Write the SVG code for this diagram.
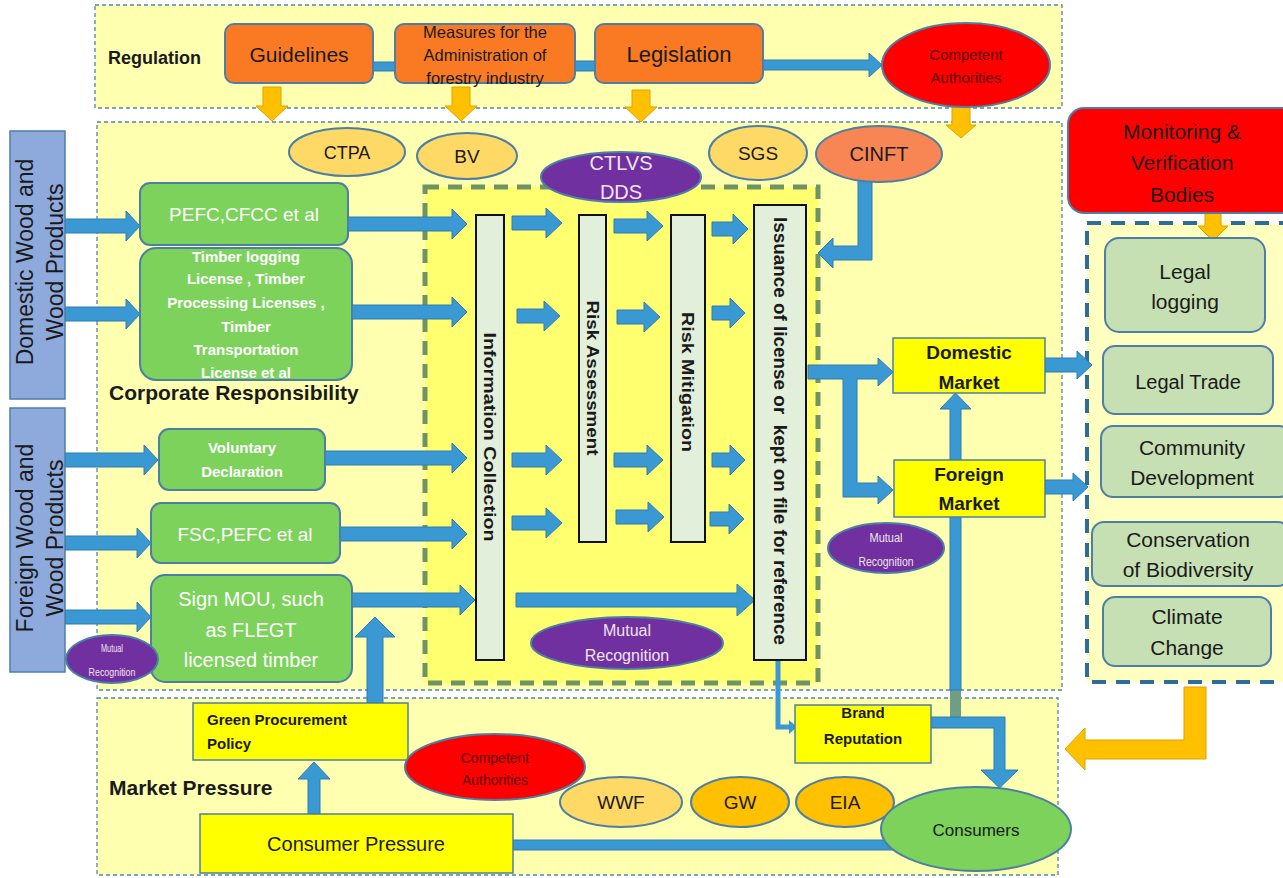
<svg xmlns="http://www.w3.org/2000/svg" width="1283" height="878" viewBox="0 0 1283 878">
<style>
.band{fill:#FFFFB0;stroke:#4F86AE;stroke-width:1.3;stroke-dasharray:4 3}
.arrow{fill:#3A98D2;stroke:#2C7DB5;stroke-width:1}
.oarrow{fill:#FFC000;stroke:#D9A400;stroke-width:1}
.green{fill:#7CD25B;stroke:#4C7FA6;stroke-width:2}
.orange{fill:#F97A22;stroke:#4C7FA6;stroke-width:2}
.col{fill:#E2EFDA;stroke:#111;stroke-width:2}
.yel{fill:#FFFF00;stroke:#4C7FA6;stroke-width:1.5}
.lg{fill:#C6E0B4;stroke:#4C7FA6;stroke-width:2}
.src{fill:#8EA9DB;stroke:#4C7FA6;stroke-width:1.5}
.ell{stroke:#4C7FA6;stroke-width:2}
.purple{fill:#7030A0;stroke:#4C7FA6;stroke-width:2}
.t{font-family:"Liberation Sans",Arial,sans-serif;fill:#1a1a1a;text-anchor:middle}
.w{fill:#ffffff}
.pk{fill:#F2E4F2}
.b{font-weight:bold}
.dr{fill:#5a0000}
</style>

<!-- bands -->
<g id="bands">
  <rect class="band" x="95" y="5" width="967" height="103"/>
  <rect class="band" x="97" y="122" width="965" height="568"/>
  <rect class="band" x="97" y="698" width="961" height="177"/>
  <rect x="425" y="187" width="393" height="496" fill="#FFFF70" stroke="#6E9463" stroke-width="5" stroke-dasharray="14 9"/>
  <rect x="1087" y="223" width="200" height="459" fill="#FFFFC0" stroke="#2E6E96" stroke-width="4" stroke-dasharray="14 10"/>
</g>

<!-- connectors -->
<g id="connectors">
  <!-- regulation connectors -->
  <rect class="arrow" x="373" y="62" width="22" height="9"/>
  <rect class="arrow" x="575" y="61" width="20" height="10"/>
  <polygon class="arrow" points="763,60 869,60 869,53 882,65 869,77 869,70 763,70"/>
  <polygon class="oarrow" points="263,87 281,87 281,106 288,106 272,121 256,106 263,106"/>
  <polygon class="oarrow" points="452,87 470,87 470,106 477,106 461,121 445,106 452,106"/>
  <polygon class="oarrow" points="632,90 650,90 650,107 657,107 641,122 625,107 632,107"/>
  <polygon class="oarrow" points="952,107 970,107 970,125 976,125 961,138 946,125 952,125"/>
  <polygon class="oarrow" points="1205,205 1221,205 1221,226 1228,226 1213,241 1198,226 1205,226"/>
  <polygon class="oarrow" points="1184,687 1206,687 1206,759 1085,759 1085,770 1065,749 1085,728 1085,740 1184,740"/>
  <!-- sources to green boxes -->
  <polygon class="arrow" points="65,219 126,219 126,211 140,226 126,241 126,233 65,233"/>
  <polygon class="arrow" points="65,307 126,307 126,299 140,314 126,329 126,321 65,321"/>
  <polygon class="arrow" points="65,453 144,453 144,445 158,460 144,475 144,467 65,467"/>
  <polygon class="arrow" points="65,536 137,536 137,528 151,543 137,558 137,550 65,550"/>
  <polygon class="arrow" points="65,610 137,610 137,602 151,617 137,632 137,624 65,624"/>
  <!-- green boxes to information collection -->
  <polygon class="arrow" points="348,217 452,217 452,209 467,224 452,239 452,231 348,231"/>
  <polygon class="arrow" points="352,305 452,305 452,297 467,312 452,327 452,319 352,319"/>
  <polygon class="arrow" points="325,451 452,451 452,443 467,458 452,473 452,465 325,465"/>
  <polygon class="arrow" points="340,527 452,527 452,519 467,534 452,549 452,541 340,541"/>
  <polygon class="arrow" points="352,593 460,593 460,585 475,600 460,615 460,607 352,607"/>
  <!-- between columns -->
  <polygon class="arrow" points="512,216 546,216 546,208 562,223 546,238 546,230 512,230"/>
  <polygon class="arrow" points="614,219 647,219 647,211 663,226 647,241 647,233 614,233"/>
  <polygon class="arrow" points="712,222 733,222 733,214 748,229 733,244 733,236 712,236"/>
  <polygon class="arrow" points="517,309 544,309 544,301 560,316 544,331 544,323 517,323"/>
  <polygon class="arrow" points="617,310 644,310 644,302 660,317 644,332 644,324 617,324"/>
  <polygon class="arrow" points="712,306 730,306 730,298 745,313 730,328 730,320 712,320"/>
  <polygon class="arrow" points="512,453 546,453 546,445 562,460 546,475 546,467 512,467"/>
  <polygon class="arrow" points="614,453 647,453 647,445 663,460 647,475 647,467 614,467"/>
  <polygon class="arrow" points="712,453 730,453 730,445 745,460 730,475 730,467 712,467"/>
  <polygon class="arrow" points="512,516 546,516 546,508 562,523 546,538 546,530 512,530"/>
  <polygon class="arrow" points="616,510 648,510 648,502 664,517 648,532 648,524 616,524"/>
  <polygon class="arrow" points="710,512 729,512 729,504 744,519 729,534 729,526 710,526"/>
  <polygon class="arrow" points="516,593 737,593 737,584 755,600 737,616 737,607 516,607"/>
  <!-- CINFT to issuance -->
  <path class="arrow" d="M858,180 L872,180 L872,260 L833,260 L833,268 L818,253 L833,238 L833,246 L858,246 Z"/>
  <!-- issuance to markets -->
  <path class="arrow" d="M808,365 L878,365 L878,358 L893,372 L878,386 L878,379 L857,379 L857,483 L878,483 L878,476 L893,490 L878,504 L878,497 L843,497 L843,379 L808,379 Z"/>
  <polygon class="arrow" points="1045,358 1077,358 1077,351 1092,365 1077,379 1077,372 1045,372"/>
  <polygon class="arrow" points="1045,480 1073,480 1073,473 1088,487 1073,501 1073,494 1045,494"/>
  <!-- up to domestic market -->
  <rect x="950" y="690" width="11" height="37" fill="#6E9E86"/>
  <polygon class="arrow" points="950,690 950,409 940,409 955.5,393 971,409 961,409 961,690"/>
  <!-- issuance to brand reputation -->
  <polyline points="778,660 778,727 790,727" fill="none" stroke="#3A98D2" stroke-width="5"/>
  <polygon points="789,720 797,727 789,734" fill="#3A98D2"/>
  <!-- brand reputation to consumers -->
  <path class="arrow" d="M931,717 L1005,717 L1005,770 L1018,770 L999.5,788 L981,770 L994,770 L994,728 L931,728 Z"/>
  <!-- consumer pressure to consumers -->
  <rect class="arrow" x="513" y="840" width="380" height="10"/>
  <!-- consumer pressure up to green procurement -->
  <polygon class="arrow" points="308,814 308,779 298,779 314,762 330,779 320,779 320,814"/>
  <!-- green procurement up to sign MOU -->
  <polygon class="arrow" points="367,703 367,637 355,637 375,617 395,637 383,637 383,703"/>
</g>

<!-- regulation -->
<g id="regulation-label"><text class="t b" x="108" y="64" font-size="18" style="text-anchor:start">Regulation</text></g>
<g id="guidelines">
  <rect class="orange" x="225" y="24" width="148" height="59" rx="9"/>
  <text class="t" x="299" y="62" font-size="21">Guidelines</text>
</g>
<g id="measures">
  <rect class="orange" x="395" y="24" width="180" height="59" rx="9"/>
  <text class="t" x="485" y="38" font-size="16.5">Measures for the</text>
  <text class="t" x="485" y="61" font-size="16.5">Administration of</text>
  <text class="t" x="485" y="84" font-size="16.5">forestry industry</text>
</g>
<g id="legislation">
  <rect class="orange" x="595" y="24" width="168" height="59" rx="9"/>
  <text class="t" x="679" y="62" font-size="22">Legislation</text>
</g>
<g id="competent-authorities-top">
  <ellipse class="ell" cx="966" cy="65" rx="84" ry="42" fill="#FF0000"/>
  <text class="t dr" x="966" y="60" font-size="15">Competent</text>
  <text class="t dr" x="966" y="83" font-size="15">Authorities</text>
</g>

<!-- corporate responsibility -->
<g id="domestic-wood">
  <rect class="src" x="10" y="131" width="55" height="268"/>
  <g transform="translate(37.5,262) rotate(-90)">
    <text class="t" x="0" y="-5" font-size="23">Domestic Wood and</text>
    <text class="t" x="0" y="25" font-size="23">Wood Products</text>
  </g>
</g>
<g id="foreign-wood">
  <rect class="src" x="10" y="408" width="55" height="264"/>
  <g transform="translate(37.5,538) rotate(-90)">
    <text class="t" x="0" y="-5" font-size="23">Foreign Wood and</text>
    <text class="t" x="0" y="25" font-size="23">Wood Products</text>
  </g>
</g>
<g id="pefc-cfcc">
  <rect class="green" x="140" y="183" width="208" height="62" rx="10"/>
  <text class="t w" x="244" y="221" font-size="19">PEFC,CFCC et al</text>
</g>
<g id="timber-licenses">
  <rect class="green" x="140" y="248" width="212" height="132" rx="16"/>
  <text class="t w b" x="246" y="262" font-size="15">Timber logging</text>
  <text class="t w b" x="246" y="284" font-size="15">License , Timber</text>
  <text class="t w b" x="246" y="308" font-size="15">Processing Licenses ,</text>
  <text class="t w b" x="246" y="332" font-size="15">Timber</text>
  <text class="t w b" x="246" y="355" font-size="15">Transportation</text>
  <text class="t w b" x="246" y="378" font-size="15">License et al</text>
</g>
<g id="corporate-label"><text class="t b" x="109" y="400" font-size="21" style="text-anchor:start">Corporate Responsibility</text></g>
<g id="voluntary-declaration">
  <rect class="green" x="159" y="429" width="166" height="61" rx="10"/>
  <text class="t w b" x="242" y="453" font-size="15">Voluntary</text>
  <text class="t w b" x="242" y="477" font-size="15">Declaration</text>
</g>
<g id="fsc-pefc">
  <rect class="green" x="151" y="503" width="189" height="60" rx="10"/>
  <text class="t w" x="245" y="541" font-size="19">FSC,PEFC et al</text>
</g>
<g id="sign-mou">
  <rect class="green" x="151" y="575" width="201" height="107" rx="14"/>
  <text class="t w" x="251" y="606" font-size="20">Sign MOU, such</text>
  <text class="t w" x="251" y="637" font-size="20">as FLEGT</text>
  <text class="t w" x="251" y="667" font-size="20">licensed timber</text>
</g>
<g id="mutual-recognition-left">
  <ellipse class="purple" cx="112" cy="659" rx="46" ry="24"/>
  <text class="t pk" x="112" y="652" font-size="11" textLength="22" lengthAdjust="spacingAndGlyphs">Mutual</text>
  <text class="t pk" x="112" y="676" font-size="11" textLength="47" lengthAdjust="spacingAndGlyphs">Recognition</text>
</g>
<g id="ctpa">
  <ellipse class="ell" cx="347" cy="152" rx="58" ry="24" fill="#FFD966"/>
  <text class="t" x="347" y="159" font-size="18">CTPA</text>
</g>
<g id="bv">
  <ellipse class="ell" cx="467" cy="156" rx="50" ry="23" fill="#FFD966"/>
  <text class="t" x="467" y="163" font-size="19">BV</text>
</g>
<g id="sgs">
  <ellipse class="ell" cx="758" cy="153" rx="49" ry="27" fill="#FFD966"/>
  <text class="t" x="758" y="160" font-size="19">SGS</text>
</g>
<g id="cinft">
  <ellipse class="ell" cx="879" cy="154" rx="63" ry="28" fill="#F88654"/>
  <text class="t" x="879" y="161" font-size="20">CINFT</text>
</g>
<g id="ctlvs-dds">
  <ellipse class="purple" cx="621" cy="177" rx="80" ry="25"/>
  <text class="t pk" x="621" y="170" font-size="20">CTLVS</text>
  <text class="t pk" x="621" y="199" font-size="20">DDS</text>
</g>
<g id="information-collection">
  <rect class="col" x="476" y="215" width="28" height="445"/>
  <text class="t b" transform="translate(490,437) rotate(90)" x="0" y="6" font-size="17" textLength="209" lengthAdjust="spacingAndGlyphs">Information Collection</text>
</g>
<g id="risk-assessment">
  <rect class="col" x="579" y="215" width="27" height="327"/>
  <text class="t b" transform="translate(592.5,378) rotate(90)" x="0" y="6" font-size="17" textLength="155" lengthAdjust="spacingAndGlyphs">Risk Assessment</text>
</g>
<g id="risk-mitigation">
  <rect class="col" x="671" y="215" width="34" height="327"/>
  <text class="t b" transform="translate(688,382) rotate(90)" x="0" y="6" font-size="17" textLength="140" lengthAdjust="spacingAndGlyphs">Risk Mitigation</text>
</g>
<g id="issuance">
  <rect class="col" x="754" y="205" width="52" height="455"/>
  <text class="t b" transform="translate(780,431) rotate(90)" x="0" y="6" font-size="18" textLength="428" lengthAdjust="spacingAndGlyphs" xml:space="preserve">Issuance of license or  kept on file for reference</text>
</g>
<g id="mutual-recognition-center">
  <ellipse class="purple" cx="627" cy="643" rx="96" ry="26"/>
  <text class="t pk" x="627" y="636" font-size="16">Mutual</text>
  <text class="t pk" x="627" y="661" font-size="16">Recognition</text>
</g>
<g id="domestic-market">
  <rect class="yel" x="893" y="338" width="152" height="55"/>
  <text class="t b" x="969" y="359" font-size="19">Domestic</text>
  <text class="t b" x="969" y="389" font-size="19">Market</text>
</g>
<g id="foreign-market">
  <rect class="yel" x="894" y="460" width="151" height="57"/>
  <text class="t b" x="969" y="481" font-size="19">Foreign</text>
  <text class="t b" x="969" y="510" font-size="19">Market</text>
</g>
<g id="mutual-recognition-right">
  <ellipse class="purple" cx="886" cy="548" rx="58" ry="25"/>
  <text class="t pk" x="886" y="542" font-size="12" textLength="33" lengthAdjust="spacingAndGlyphs">Mutual</text>
  <text class="t pk" x="886" y="566" font-size="12" textLength="55" lengthAdjust="spacingAndGlyphs">Recognition</text>
</g>

<!-- monitoring -->
<g id="monitoring-bodies">
  <rect x="1068" y="108" width="230" height="105" rx="16" fill="#FF0000" stroke="#4C7FA6" stroke-width="2"/>
  <text class="t" x="1182" y="139" font-size="21">Monitoring &amp;</text>
  <text class="t" x="1182" y="170" font-size="21">Verification</text>
  <text class="t" x="1182" y="202" font-size="21">Bodies</text>
</g>
<g id="legal-logging">
  <rect class="lg" x="1105" y="238" width="160" height="94" rx="14"/>
  <text class="t" x="1185" y="279" font-size="21">Legal</text>
  <text class="t" x="1185" y="309" font-size="21">logging</text>
</g>
<g id="legal-trade">
  <rect class="lg" x="1103" y="346" width="170" height="68" rx="12"/>
  <text class="t" x="1188" y="389" font-size="20">Legal Trade</text>
</g>
<g id="community-development">
  <rect class="lg" x="1101" y="426" width="190" height="71" rx="12"/>
  <text class="t" x="1192" y="455" font-size="21">Community</text>
  <text class="t" x="1192" y="485" font-size="21">Development</text>
</g>
<g id="conservation-biodiversity">
  <rect class="lg" x="1092" y="522" width="198" height="64" rx="12"/>
  <text class="t" x="1188" y="547" font-size="21">Conservation</text>
  <text class="t" x="1188" y="577" font-size="21">of Biodiversity</text>
</g>
<g id="climate-change">
  <rect class="lg" x="1103" y="597" width="168" height="69" rx="12"/>
  <text class="t" x="1187" y="624" font-size="21">Climate</text>
  <text class="t" x="1187" y="655" font-size="21">Change</text>
</g>

<!-- market pressure -->
<g id="green-procurement">
  <rect class="yel" x="193" y="703" width="215" height="57"/>
  <text class="t b" x="207" y="725" font-size="15" style="text-anchor:start">Green Procurement</text>
  <text class="t b" x="207" y="749" font-size="15" style="text-anchor:start">Policy</text>
</g>
<g id="market-label"><text class="t b" x="109" y="795" font-size="21" style="text-anchor:start">Market Pressure</text></g>
<g id="competent-authorities-bottom">
  <ellipse class="ell" cx="495" cy="767" rx="90" ry="33" fill="#FF0000"/>
  <text class="t dr" x="495" y="763" font-size="14">Competent</text>
  <text class="t dr" x="495" y="785" font-size="14">Authorities</text>
</g>
<g id="brand-reputation">
  <rect class="yel" x="795" y="705" width="136" height="58"/>
  <text class="t b" x="863" y="718" font-size="15">Brand</text>
  <text class="t b" x="863" y="744" font-size="15">Reputation</text>
</g>
<g id="consumer-pressure">
  <rect class="yel" x="200" y="814" width="313" height="59"/>
  <text class="t" x="356" y="851" font-size="20">Consumer Pressure</text>
</g>
<g id="wwf">
  <ellipse class="ell" cx="621" cy="802" rx="61" ry="25" fill="#FFD966"/>
  <text class="t" x="621" y="809" font-size="19">WWF</text>
</g>
<g id="gw">
  <ellipse class="ell" cx="740" cy="802" rx="49" ry="25" fill="#FFC000"/>
  <text class="t" x="740" y="809" font-size="19">GW</text>
</g>
<g id="eia">
  <ellipse class="ell" cx="845" cy="802" rx="49" ry="25" fill="#FFC000"/>
  <text class="t" x="845" y="809" font-size="19">EIA</text>
</g>
<g id="consumers">
  <ellipse class="ell" cx="976" cy="829" rx="95" ry="42" fill="#7CD25B"/>
  <text class="t" x="976" y="836" font-size="17">Consumers</text>
</g>
</svg>
